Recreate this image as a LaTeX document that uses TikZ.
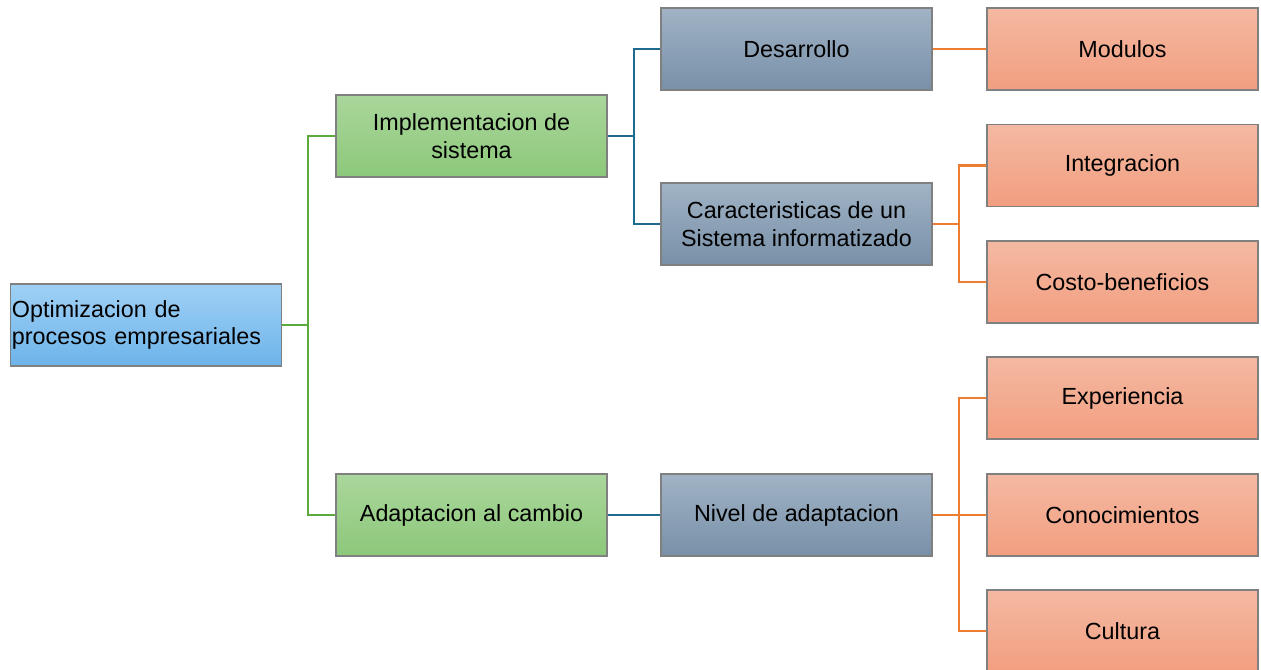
\documentclass[tikz,border=0pt]{standalone}
\usepackage{fontspec}
\setmainfont{Liberation Sans}
\definecolor{rootTop}{HTML}{9FD0F5}
\definecolor{rootBot}{HTML}{6DB4EA}
\definecolor{grnTop}{HTML}{AAD69B}
\definecolor{grnBot}{HTML}{8CC87A}
\definecolor{gbTop}{HTML}{A1B3C5}
\definecolor{gbBot}{HTML}{7890A8}
\definecolor{salTop}{HTML}{F4B9A2}
\definecolor{salBot}{HTML}{F29E80}
\definecolor{grnLine}{HTML}{5AAB3C}
\definecolor{bluLine}{HTML}{1F6A8F}
\definecolor{orgLine}{HTML}{ED7D31}
\tikzset{
  box/.style = {rectangle, draw=black!50, line width=0.9pt, minimum width=203.25pt,
    minimum height=61.5pt, inner sep=1pt, align=center,
    font=\fontsize{17.5}{20.5}\selectfont},
  rootbox/.style = {box, top color=rootTop, bottom color=rootBot,
    text width=201pt, align=left},
  lvlone/.style = {box, top color=grnTop, bottom color=grnBot},
  lvltwo/.style = {box, top color=gbTop, bottom color=gbBot},
  lvlthree/.style = {box, top color=salTop, bottom color=salBot},
  conn/.style = {line width=1.8pt}
}
\begin{document}
\begin{tikzpicture}[x=0.75pt, y=-0.75pt]
  \useasboundingbox (0,0) rectangle (1261,670);
  \node[rootbox] (root) at (146,325) {Optimizacion de\\procesos empresariales};

  \node[lvlone] (impl) at (471.5,136) {Implementacion de\\sistema};
  \node[lvlone] (adap) at (471.5,515) {Adaptacion al cambio};

  \node[lvltwo] (desa) at (796.5,49) {Desarrollo};
  \node[lvltwo] (cara) at (796.5,224) {Caracteristicas de un\\Sistema informatizado};
  \node[lvltwo] (nivel) at (796.5,515) {Nivel de adaptacion};

  \node[lvlthree] (modu) at (1122.5,49) {Modulos};
  \node[lvlthree] (integ) at (1122.5,165.5) {Integracion};
  \node[lvlthree] (costo) at (1122.5,282) {Costo-beneficios};
  \node[lvlthree] (expe) at (1122.5,398) {Experiencia};
  \node[lvlthree] (cono) at (1122.5,515) {Conocimientos};
  \node[lvlthree] (cult) at (1122.5,631) {Cultura};

  % junctions
  \coordinate (j1) at (308,325);
  \coordinate (j2) at (634,136);
  \coordinate (j3) at (959,224);
  \coordinate (j4) at (959,515);

  \draw[conn, grnLine] (root.east) -- (j1) |- (impl.west);
  \draw[conn, grnLine] (j1) |- (adap.west);

  \draw[conn, bluLine] (impl.east) -- (j2) |- (desa.west);
  \draw[conn, bluLine] (j2) |- (cara.west);
  \draw[conn, bluLine] (adap.east) -- (nivel.west);

  \draw[conn, orgLine] (desa.east) -- (modu.west);
  \draw[conn, orgLine] (cara.east) -- (j3) |- (integ.west);
  \draw[conn, orgLine] (j3) |- (costo.west);
  \foreach \k in {expe,cono,cult}
    \draw[conn, orgLine] (nivel.east) -- (j4) |- (\k.west);
\end{tikzpicture}
\end{document}
